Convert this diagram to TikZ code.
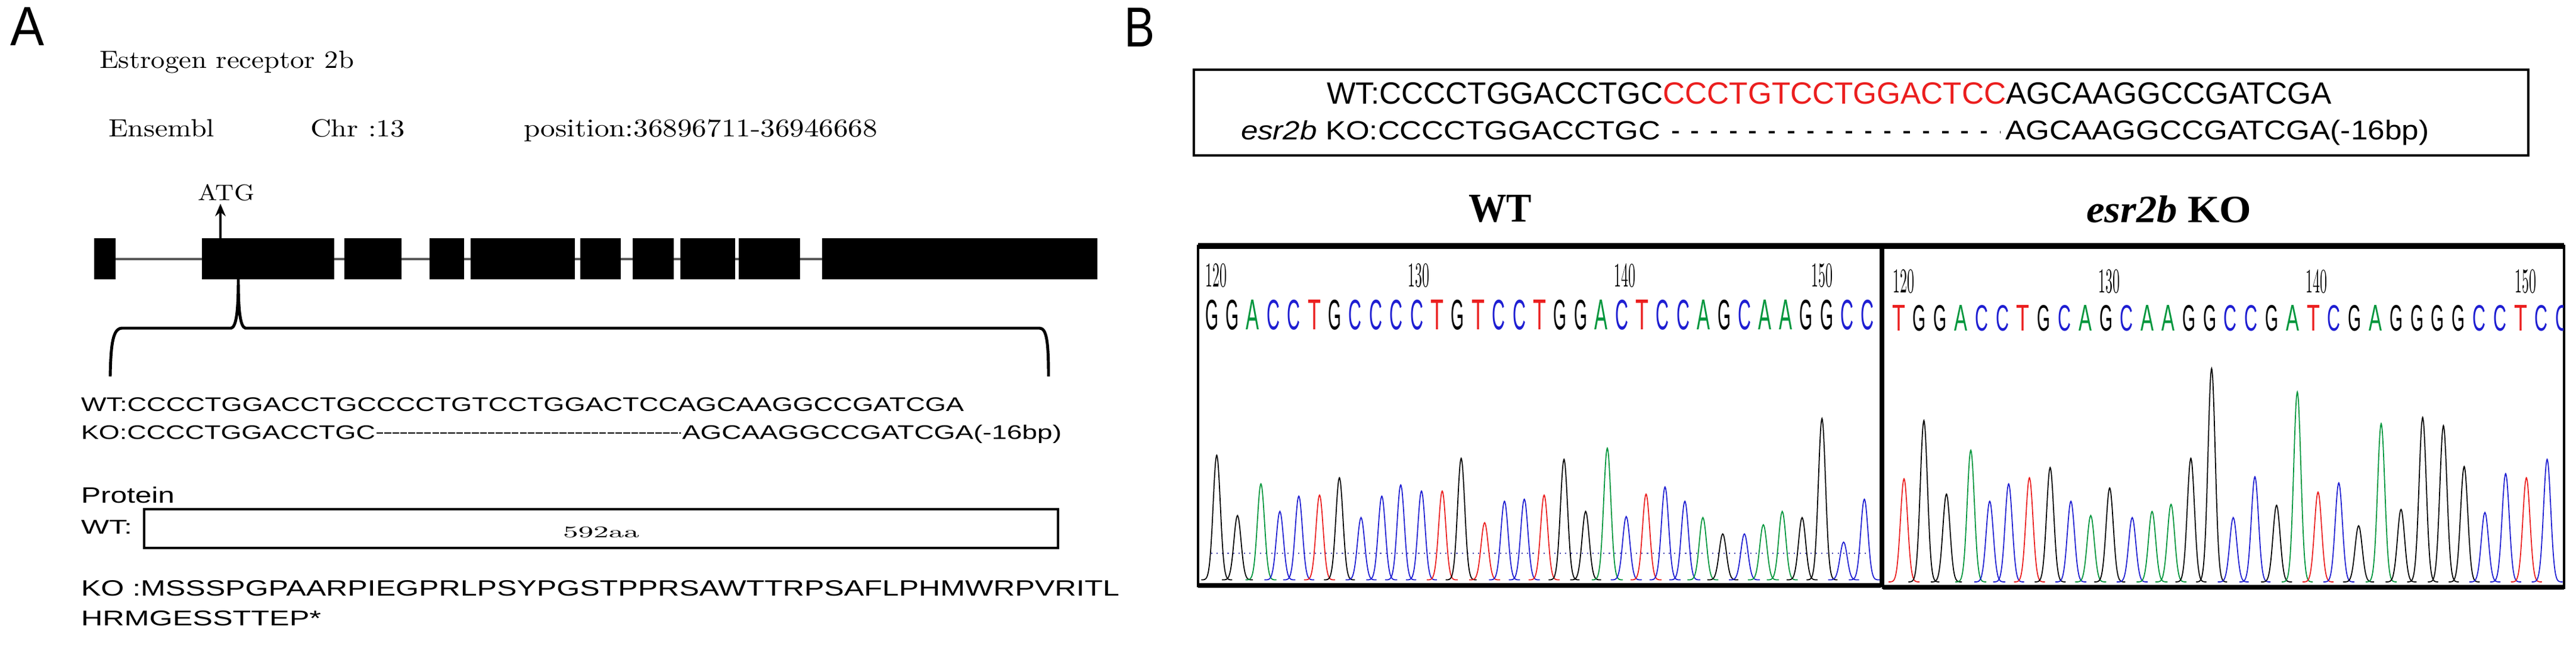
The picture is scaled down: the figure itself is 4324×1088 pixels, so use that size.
\documentclass[tikz,border=0pt]{standalone}
\usepackage{fontspec}
\setmainfont{Latin Modern Roman}
\newfontfamily\arialf{Liberation Sans}
\newfontfamily\timesf{Liberation Serif}
\usepackage{graphicx}
\usetikzlibrary{arrows.meta}
\newlength\pxu \setlength\pxu{0.01cm}
\newcommand\fitbox[3]{\resizebox{#1\pxu}{#2\pxu}{#3}}
\definecolor{bgreen}{RGB}{0,150,60}
\definecolor{bblue}{RGB}{30,30,210}
\definecolor{bred}{RGB}{235,30,30}
\definecolor{tG}{RGB}{0,0,0}
\definecolor{tA}{RGB}{0,150,60}
\definecolor{tC}{RGB}{30,30,210}
\definecolor{tT}{RGB}{235,30,30}
\begin{document}
\begin{tikzpicture}[x=0.01cm,y=-0.01cm,
  txt/.style={inner sep=0pt,outer sep=0pt,anchor=base west},
  ctxt/.style={inner sep=0pt,outer sep=0pt,anchor=base},
  exon/.style={fill=black,draw=none},
  trace/.style={line width=0.5pt}]
\useasboundingbox (0,0) rectangle (4324,1088);
% ---------------- Panel A ----------------
\node[txt] (labA) at (18,77) {\arialf\fitbox{57}{64}{A}};
\node[txt] (title) at (167,115) {\fitbox{427}{29}{Estrogen receptor 2b}};
\node[txt] (ens) at (182,230) {\fitbox{178}{29}{Ensembl}};
\node[txt] (chr) at (521,230) {\fitbox{159}{29}{Chr :13}};
\node[txt] (pos) at (879,230) {\fitbox{594}{29}{position:36896711-36946668}};
% gene line and exons
\draw[gray!70!black,line width=1pt] (194,435) -- (1380,435);
\foreach \l/\r in {158/194,339/561,578/674,721/779,790/965,974/1042,1062/1131,1142/1234,1240/1343,1380/1842}
  \fill[exon] (\l,400) rectangle (\r,469);
\coordinate (atgfoot) at (370,400);
\node[ctxt] (atg) at (380,337) {\fitbox{94}{27}{ATG}};
\draw[-{Stealth[length=6pt,width=5pt]},line width=1.1pt] (atgfoot) -- (370,342);
% brace
\coordinate (bpeak) at (400,469);
\draw[line width=1.4pt] (185,632) .. controls (186,575) and (190,551) .. (205,551) -- (388,551)
  .. controls (397,549) and (400,520) .. (bpeak)
  .. controls (400,520) and (403,549) .. (412,551) -- (1745,551)
  .. controls (1757,551) and (1760,575) .. (1760,632);
% sequences
\node[txt] (aWT) at (136,690) {\arialf\fitbox{1482}{23}{WT:CCCCTGGACCTGCCCCTGTCCTGGACTCCAGCAAGGCCGATCGA}};
\node[txt] (aKO1) at (136,737) {\arialf\fitbox{494}{23}{KO:CCCCTGGACCTGC}};
\draw[line width=0.7pt,dash pattern=on 3.2pt off 0.6pt] (632,727) -- (1143,727);
\node[txt] (aKO2) at (1145,737) {\arialf\fitbox{637}{24}{AGCAAGGCCGATCGA(-16bp)}};
\node[txt] (prot) at (136,844) {\arialf\fitbox{157}{27}{Protein}};
\node[txt] (pWT) at (136,896) {\arialf\fitbox{86}{23}{WT:}};
\draw[line width=1.2pt] (242,855) rectangle (1776,920);
\node[txt] (aa) at (945,902) {\fitbox{128}{18}{592aa}};
\node[txt] (pKO) at (136,1000) {\arialf\fitbox{1743}{26}{KO :MSSSPGPAARPIEGPRLPSYPGSTPPRSAWTTRPSAFLPHMWRPVRITL}};
\node[txt] (pKO2) at (136,1050) {\arialf\fitbox{403}{25}{HRMGESSTTEP*}};
% ---------------- Panel B ----------------
\node[txt] (labB) at (1887,78) {\arialf\fitbox{51}{65}{B}};
\draw[line width=1pt] (2004,117) rectangle (4244,261);
\node[txt] (bWT) at (2227,175) {\arialf\fitbox{1687}{36}{WT:CCCCTGGACCTGC\textcolor{bred}{CCCTGTCCTGGACTCC}AGCAAGGCCGATCGA}};
\node[txt] (bKO1) at (2083,235) {\arialf\fitbox{704}{32}{\itshape esr2b\upshape\ KO:CCCCTGGACCTGC}};
\draw[line width=1pt,dash pattern=on 3pt off 6.2pt] (2807,222) -- (3358,222);
\node[txt] (bKO2) at (3366,235) {\arialf\fitbox{711}{33}{AGCAAGGCCGATCGA(-16bp)}};
\node[txt] (tWT) at (2465,373) {\timesf\bfseries\fitbox{106}{45}{WT}};
\node[txt] (tKO) at (3502,373) {\timesf\bfseries\fitbox{277}{45}{\itshape esr2b\upshape\ KO}};
% frames
\draw[line width=1.1pt] (2011,413) rectangle (3157,984);
\draw[line width=1.1pt] (3161,413) rectangle (4304,987);
\draw[line width=2.6pt] (2011,413) -- (4304,413);
\draw[line width=2pt] (2011,983) -- (3157,983);
\draw[line width=2pt] (3161,986) -- (4304,986);
% tick numbers
\foreach \x/\n in {2041/120,2381/130,2727/140,3058/150}
  \node[ctxt] at (\x,481) {\fitbox{36}{39}{\n}};
\foreach \x/\n in {3195/120,3540/130,3888/140,4239/150}
  \node[ctxt] at (\x,491) {\fitbox{36}{39}{\n}};
% base calls
\foreach \b [count=\i from 0] in {G,G,A,C,C,T,G,C,C,C,C,T,G,T,C,C,T,G,G,A,C,T,C,C,A,G,C,A,A,G,G,C,C}
  \node[ctxt,text=t\b] at ({2034+34.4*\i},553) {\arialf\fitbox{22}{50}{\b}};
\begin{scope}
\clip (3163,415) rectangle (4302,985);
\foreach \b [count=\i from 0] in {T,G,G,A,C,C,T,G,C,A,G,C,A,A,G,G,C,C,G,A,T,C,G,A,G,G,G,G,C,C,T,C,C}
  \node[ctxt,text=t\b] at ({3187+34.8*\i},555) {\arialf\fitbox{22}{43}{\b}};
\end{scope}
% dotted baseline WT
\draw[bblue!60!gray,line width=0.6pt,dotted] (2033,929) -- (3138,929);
% WT peaks
\foreach \a/\b/\c in {61/625/black,84/920/black,110/765/bgreen,131/900/bblue,152/825/bblue,175/820/bred,197/735/black,221/930/bblue,244/825/bblue,265/770/bblue,288/800/bblue,311/800/bred,332/640/black,358/955/bred,380/850/bblue,402/840/bblue,424/820/bred,446/645/black,470/900/black,494/590/bgreen,515/925/bblue,537/815/bred,558/780/bblue,580/850/bblue,600/930/bgreen,622/1010/black,646/1010/bblue,667/965/bgreen,688/900/bgreen,710/930/black,732/445/black,756/1050/bblue,779/840/bblue}
  \draw[trace,\c] plot[domain=-26:26,samples=27,smooth] ({1950+1.514*\a+\x},{550+0.343*(1235-(1235-\b)*exp(-(\x/8.5)^2))});
% KO peaks
\foreach \a/\b/\c in {823/740/bred,845/455/black,870/815/black,897/600/bgreen,918/850/bblue,939/765/bblue,962/735/bred,985/685/black,1008/850/bblue,1030/920/bgreen,1051/785/black,1076/930/bblue,1098/900/bgreen,1119/865/bgreen,1141/640/black,1164/200/black,1188/930/bblue,1212/730/bblue,1236/870/black,1259/315/bgreen,1282/805/bred,1305/760/bblue,1327/970/black,1352/470/bgreen,1374/890/black,1398/440/black,1421/480/black,1444/680/black,1467/905/bblue,1490/715/bblue,1513/735/bred,1536/645/bblue}
  \draw[trace,\c] plot[domain=-26:26,samples=27,smooth] ({1950+1.514*\a+\x},{550+0.343*(1245-(1245-\b)*exp(-(\x/8.5)^2))});
\end{tikzpicture}
\end{document}
